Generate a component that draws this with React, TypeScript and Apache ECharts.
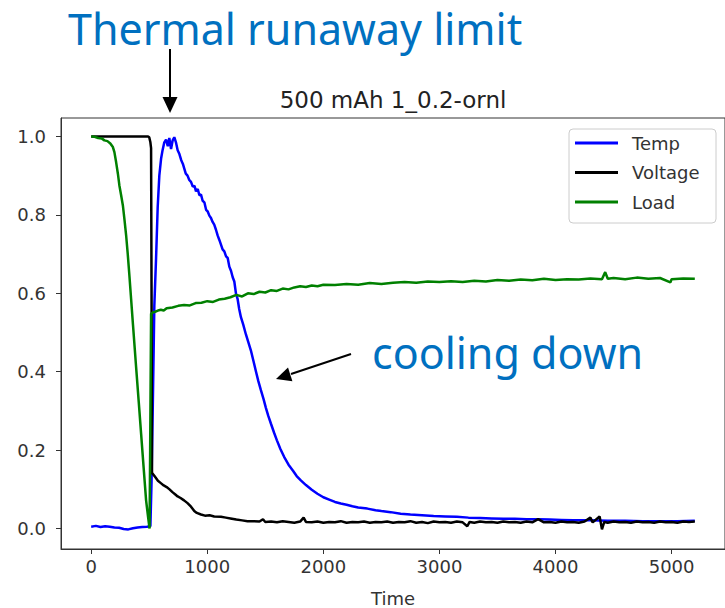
import React, { useEffect, useRef } from "react";
import * as echarts from "echarts";

const titleText = "500 mAh 1_0.2-ornl";
const xAxisTitle = "Time";
const xTicks = [0, 1000, 2000, 3000, 4000, 5000];
const yTicks = [0, 0.2, 0.4, 0.6, 0.8, 1.0];
const seriesNames = ["Temp", "Voltage", "Load"];
const seriesColors = ["#0000ff", "#000000", "#008000"];

const tempData: number[][] = [
  [0, 0.005], [40, 0.007], [80, 0.004], [120, 0.006], [160, 0.005], [200, 0.003], [240, 0.002],
  [280, -0.001], [320, -0.002], [360, 0.001], [400, 0.003], [440, 0.004], [480, 0.005], [510, 0.006],
  [520, 0.12], [530, 0.3], [544, 0.568], [559, 0.69], [573, 0.82], [587, 0.9], [602, 0.943],
  [615, 0.965], [630, 0.985], [645, 0.992], [660, 0.975], [673, 0.996], [688, 0.968], [702, 0.99],
  [716, 0.998], [730, 0.985], [745, 0.965], [760, 0.955], [775, 0.94], [790, 0.93], [802, 0.918],
  [815, 0.905], [830, 0.9], [845, 0.889], [860, 0.884], [875, 0.872], [890, 0.874], [903, 0.86],
  [918, 0.866], [932, 0.85], [946, 0.852], [960, 0.836], [975, 0.832], [990, 0.813], [1003, 0.809],
  [1018, 0.798], [1032, 0.792], [1046, 0.782], [1060, 0.775], [1075, 0.762], [1090, 0.747],
  [1104, 0.736], [1118, 0.724], [1132, 0.712], [1147, 0.707], [1162, 0.694], [1176, 0.69],
  [1190, 0.668], [1205, 0.657], [1219, 0.641], [1233, 0.63], [1247, 0.6], [1261, 0.586],
  [1275, 0.56], [1290, 0.539], [1310, 0.52], [1333, 0.495], [1355, 0.474], [1376, 0.454],
  [1400, 0.425], [1420, 0.4], [1440, 0.376], [1462, 0.353], [1485, 0.33], [1505, 0.308],
  [1525, 0.288], [1548, 0.268], [1575, 0.245], [1600, 0.225], [1630, 0.203], [1662, 0.183],
  [1700, 0.163], [1740, 0.147], [1770, 0.134], [1806, 0.123], [1850, 0.111], [1900, 0.099],
  [1949, 0.089], [2000, 0.08], [2050, 0.074], [2100, 0.068], [2150, 0.064], [2200, 0.061],
  [2250, 0.057], [2300, 0.054], [2379, 0.051], [2450, 0.047], [2500, 0.045], [2580, 0.042],
  [2666, 0.038], [2750, 0.036], [2850, 0.034], [2950, 0.032], [3050, 0.031], [3150, 0.03],
  [3250, 0.028], [3350, 0.027], [3450, 0.026], [3550, 0.025], [3650, 0.025], [3750, 0.024],
  [3850, 0.024], [3950, 0.023], [4050, 0.022], [4150, 0.021], [4300, 0.021], [4450, 0.02],
  [4600, 0.02], [4750, 0.019], [4900, 0.019], [5050, 0.019], [5200, 0.02],
];

const voltageData: number[][] = [
  [0, 1.0], [100, 1.0], [200, 1.0], [300, 1.0], [400, 1.0], [490, 1.0], [500, 0.998], [510, 0.985],
  [516, 0.97], [520, 0.6], [524, 0.141], [530, 0.14], [550, 0.132], [575, 0.122], [600, 0.116],
  [625, 0.11], [650, 0.106], [675, 0.1], [700, 0.093], [725, 0.087], [745, 0.082], [770, 0.078],
  [800, 0.072], [830, 0.065], [860, 0.056], [888, 0.045], [910, 0.04], [946, 0.036], [980, 0.033],
  [1020, 0.034], [1060, 0.031], [1118, 0.03], [1160, 0.028], [1200, 0.026], [1250, 0.023],
  [1300, 0.021], [1347, 0.019], [1400, 0.019], [1450, 0.018], [1480, 0.024], [1500, 0.017],
  [1550, 0.018], [1600, 0.016], [1650, 0.019], [1700, 0.017], [1750, 0.015], [1800, 0.018],
  [1830, 0.028], [1850, 0.017], [1900, 0.016], [1950, 0.018], [2000, 0.015], [2050, 0.017],
  [2100, 0.016], [2150, 0.019], [2200, 0.015], [2250, 0.017], [2300, 0.016], [2350, 0.018],
  [2400, 0.015], [2450, 0.017], [2500, 0.016], [2550, 0.018], [2600, 0.015], [2650, 0.017],
  [2700, 0.016], [2750, 0.019], [2800, 0.015], [2850, 0.017], [2900, 0.014], [2950, 0.018],
  [3000, 0.016], [3050, 0.017], [3100, 0.015], [3150, 0.018], [3200, 0.016], [3240, 0.006],
  [3260, 0.017], [3300, 0.015], [3350, 0.018], [3400, 0.016], [3450, 0.017], [3500, 0.015],
  [3550, 0.018], [3600, 0.016], [3650, 0.017], [3700, 0.015], [3750, 0.018], [3800, 0.016],
  [3850, 0.024], [3900, 0.016], [3950, 0.017], [4000, 0.015], [4050, 0.018], [4100, 0.016],
  [4150, 0.017], [4200, 0.015], [4250, 0.018], [4300, 0.028], [4320, 0.016], [4380, 0.031],
  [4400, -0.002], [4420, 0.017], [4450, 0.015], [4500, 0.018], [4550, 0.016], [4600, 0.017],
  [4650, 0.015], [4700, 0.018], [4750, 0.016], [4800, 0.017], [4850, 0.015], [4900, 0.018],
  [4950, 0.016], [5000, 0.017], [5050, 0.015], [5100, 0.018], [5150, 0.017], [5200, 0.018],
];

const loadData: number[][] = [
  [0, 1.0], [30, 0.999], [60, 0.996], [90, 0.995], [114, 0.99], [140, 0.988], [165, 0.982],
  [187, 0.973], [200, 0.96], [215, 0.934], [230, 0.905], [243, 0.875], [258, 0.85], [273, 0.824],
  [287, 0.787], [301, 0.748], [315, 0.7], [329, 0.646], [344, 0.585], [360, 0.52], [387, 0.412],
  [410, 0.322], [430, 0.242], [452, 0.155], [473, 0.072], [490, 0.03], [503, 0.0], [508, 0.2],
  [516, 0.548], [524, 0.55], [550, 0.553], [575, 0.556], [600, 0.558], [625, 0.556], [650, 0.562],
  [700, 0.564], [750, 0.568], [800, 0.57], [850, 0.569], [900, 0.575], [950, 0.576], [1000, 0.58],
  [1050, 0.578], [1100, 0.584], [1150, 0.586], [1200, 0.59], [1250, 0.596], [1300, 0.592],
  [1350, 0.6], [1400, 0.598], [1450, 0.604], [1500, 0.602], [1550, 0.608], [1600, 0.606],
  [1650, 0.612], [1700, 0.61], [1750, 0.615], [1800, 0.618], [1850, 0.616], [1900, 0.62],
  [1950, 0.618], [2000, 0.622], [2100, 0.621], [2200, 0.624], [2300, 0.622], [2400, 0.626],
  [2500, 0.624], [2600, 0.627], [2700, 0.629], [2800, 0.627], [2900, 0.63], [3000, 0.629],
  [3100, 0.631], [3200, 0.629], [3300, 0.632], [3400, 0.63], [3500, 0.634], [3600, 0.632],
  [3700, 0.635], [3800, 0.633], [3900, 0.637], [4000, 0.634], [4100, 0.636], [4200, 0.635],
  [4300, 0.638], [4400, 0.636], [4428, 0.654], [4450, 0.637], [4500, 0.639], [4600, 0.636],
  [4700, 0.64], [4800, 0.637], [4900, 0.639], [4990, 0.628], [5000, 0.636], [5100, 0.638],
  [5200, 0.637],
];

const annotationTop = "Thermal runaway limit";
const annotationRight = "cooling down";

export default function App() {
  const ref = useRef<HTMLDivElement>(null);
  useEffect(() => {
    if (!ref.current) return;
    const chart = echarts.init(ref.current, undefined, { renderer: "svg" });
    const tickFont = "DejaVu Sans";
    const textColor = "#333333";
    const annColor = "#0070C0";
    const allData = [tempData, voltageData, loadData];
    chart.setOption({
      animation: false,
      backgroundColor: "#ffffff",
      grid: {
        left: 61,
        right: 0,
        top: 118,
        bottom: 59,
        show: true,
        borderColor: "#333333",
        borderWidth: 1,
        containLabel: false,
      },
      xAxis: {
        type: "value",
        min: -260,
        max: 5460,
        splitLine: { show: false },
        axisLine: { show: true, onZero: false, lineStyle: { color: "#333333", width: 1 } },
        axisTick: { show: true, customValues: xTicks, length: 5, lineStyle: { color: "#333333" } },
        axisLabel: {
          customValues: xTicks,
          color: textColor,
          fontFamily: tickFont,
          fontSize: 18,
          margin: 8,
          formatter: (v: number) => String(v),
        },
      },
      yAxis: {
        type: "value",
        min: -0.052,
        max: 1.047,
        splitLine: { show: false },
        axisLine: { show: true, onZero: false, lineStyle: { color: "#333333", width: 1 } },
        axisTick: { show: true, customValues: yTicks, length: 5, lineStyle: { color: "#333333" } },
        axisLabel: {
          customValues: yTicks,
          color: textColor,
          fontFamily: tickFont,
          fontSize: 18,
          margin: 15,
          formatter: (v: number) => v.toFixed(1),
        },
      },
      legend: {
        orient: "vertical",
        left: 575,
        top: 134,
        padding: 0,
        itemGap: 11.5,
        itemWidth: 43,
        itemHeight: 3,
        icon: "rect",
        data: seriesNames,
        textStyle: {
          color: textColor,
          fontFamily: tickFont,
          fontSize: 18,
          lineHeight: 18,
          padding: [0, 0, 0, 9],
        },
      },
      series: seriesNames.map((name, i) => ({
        name,
        type: "line",
        data: allData[i],
        showSymbol: false,
        symbol: "none",
        color: seriesColors[i],
        lineStyle: { width: 2.5, color: seriesColors[i] },
        z: 2 + i,
      })),
      graphic: [
        {
          type: "rect",
          shape: { x: 569, y: 129, width: 147, height: 94, r: 4 },
          style: { fill: "rgba(255,255,255,0.8)", stroke: "#cccccc", lineWidth: 1 },
          z: 1,
          silent: true,
        },
        {
          type: "text",
          x: 393,
          y: 100,
          style: {
            text: titleText,
            fill: "#222222",
            font: "23px 'DejaVu Sans'",
            textAlign: "center",
            textVerticalAlign: "middle",
          },
        },
        {
          type: "text",
          x: 393,
          y: 598,
          style: {
            text: xAxisTitle,
            fill: textColor,
            font: "18px 'DejaVu Sans'",
            textAlign: "center",
            textVerticalAlign: "middle",
          },
        },
        {
          type: "text",
          x: 68,
          y: 28,
          style: {
            text: annotationTop,
            fill: annColor,
            font: "43px 'Noto Sans'",
            textAlign: "left",
            textVerticalAlign: "middle",
          },
        },
        {
          type: "text",
          x: 372,
          y: 352,
          style: {
            text: annotationRight,
            fill: annColor,
            font: "43px 'Noto Sans'",
            textAlign: "left",
            textVerticalAlign: "middle",
          },
        },
        {
          type: "line",
          shape: { x1: 170, y1: 49, x2: 170, y2: 100 },
          style: { stroke: "#000000", lineWidth: 2 },
        },
        {
          type: "polygon",
          shape: { points: [[162.5, 97], [177.5, 97], [170, 113]] },
          style: { fill: "#000000" },
        },
        {
          type: "line",
          shape: { x1: 351, y1: 354, x2: 291, y2: 374 },
          style: { stroke: "#000000", lineWidth: 2 },
        },
        {
          type: "polygon",
          shape: { points: [[276, 379], [292.4, 381.2], [288, 367.5]] },
          style: { fill: "#000000" },
        },
      ],
    });
    return () => chart.dispose();
  }, []);
  return <div ref={ref} style={{ width: 725, height: 608, position: "absolute", left: 0, top: 0 }} />;
}
